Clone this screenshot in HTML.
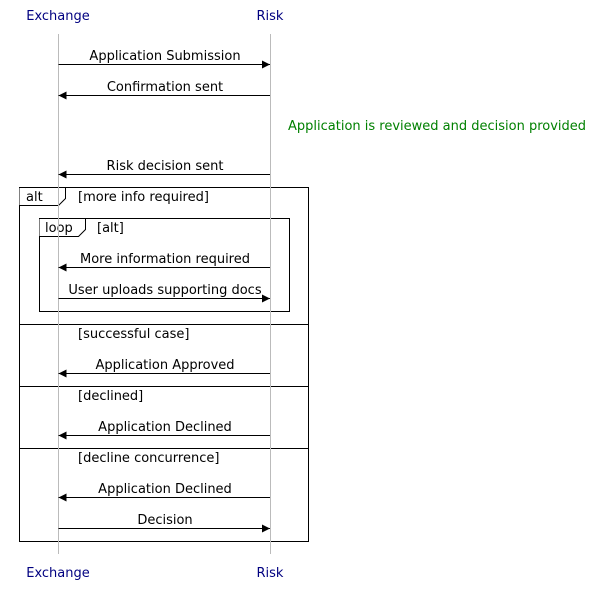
<!DOCTYPE html>
<html><head><meta charset="utf-8"><style>
html,body{margin:0;padding:0;background:#fff;}
svg{display:block;}
text{font-family:"DejaVu Sans","Liberation Sans",sans-serif;font-size:13px;}
</style></head><body>
<svg width="600" height="596" viewBox="0 0 600 596" xmlns="http://www.w3.org/2000/svg">
<defs>
<marker id="a" markerWidth="8" markerHeight="8" refX="8" refY="4" orient="auto" markerUnits="userSpaceOnUse">
<path d="M0,0 L8,4 L0,8 z" fill="#000"/></marker>
</defs>
<!-- frames -->
<rect x="19.5" y="187.5" width="289" height="354" fill="none" stroke="#000" stroke-width="1"/>
<path d="M19.5,187.5 H65.5 V198.5 L58.5,205.5 H19.5" fill="#fff" stroke="#000"/>
<text x="26" y="201" fill="#000">alt</text>
<text x="78" y="201" fill="#000">[more info required]</text>
<rect x="39.5" y="218.5" width="250" height="93" fill="none" stroke="#000"/>
<path d="M39.5,218.5 H85.5 V229.5 L78.5,236.5 H39.5" fill="#fff" stroke="#000"/>
<text x="45" y="232" fill="#000">loop</text>
<text x="97" y="232" fill="#000">[alt]</text>
<line x1="19.5" y1="324.5" x2="308.5" y2="324.5" stroke="#000"/>
<text x="78" y="338" fill="#000">[successful case]</text>
<line x1="19.5" y1="386.5" x2="308.5" y2="386.5" stroke="#000"/>
<text x="78" y="400" fill="#000">[declined]</text>
<line x1="19.5" y1="448.5" x2="308.5" y2="448.5" stroke="#000"/>
<text x="78" y="462" fill="#000">[decline concurrence]</text>
<!-- lifelines -->
<line x1="58.5" y1="34" x2="58.5" y2="554" stroke="#bbb"/>
<line x1="270.5" y1="34" x2="270.5" y2="554" stroke="#bbb"/>
<!-- actors -->
<g fill="#000080" text-anchor="middle">
<text x="58" y="20">Exchange</text>
<text x="270" y="20">Risk</text>
<text x="58" y="577">Exchange</text>
<text x="270" y="577">Risk</text>
</g>
<!-- messages -->
<g stroke="#000" stroke-width="1" marker-end="url(#a)">
<line x1="58.5" y1="64.5" x2="270" y2="64.5"/>
<line x1="270" y1="95.5" x2="58.5" y2="95.5"/>
<line x1="270" y1="174.5" x2="58.5" y2="174.5"/>
<line x1="270" y1="267.5" x2="58.5" y2="267.5"/>
<line x1="58.5" y1="298.5" x2="270" y2="298.5"/>
<line x1="270" y1="373.5" x2="58.5" y2="373.5"/>
<line x1="270" y1="435.5" x2="58.5" y2="435.5"/>
<line x1="270" y1="497.5" x2="58.5" y2="497.5"/>
<line x1="58.5" y1="528.5" x2="270" y2="528.5"/>
</g>
<g fill="#000" text-anchor="middle">
<text x="165" y="60">Application Submission</text>
<text x="165" y="91">Confirmation sent</text>
<text x="165" y="170">Risk decision sent</text>
<text x="165" y="263">More information required</text>
<text x="165" y="294">User uploads supporting docs</text>
<text x="165" y="369">Application Approved</text>
<text x="165" y="431">Application Declined</text>
<text x="165" y="493">Application Declined</text>
<text x="165" y="524">Decision</text>
</g>
<text x="288" y="130" fill="#008000">Application is reviewed and decision provided</text>
</svg>
</body></html>
